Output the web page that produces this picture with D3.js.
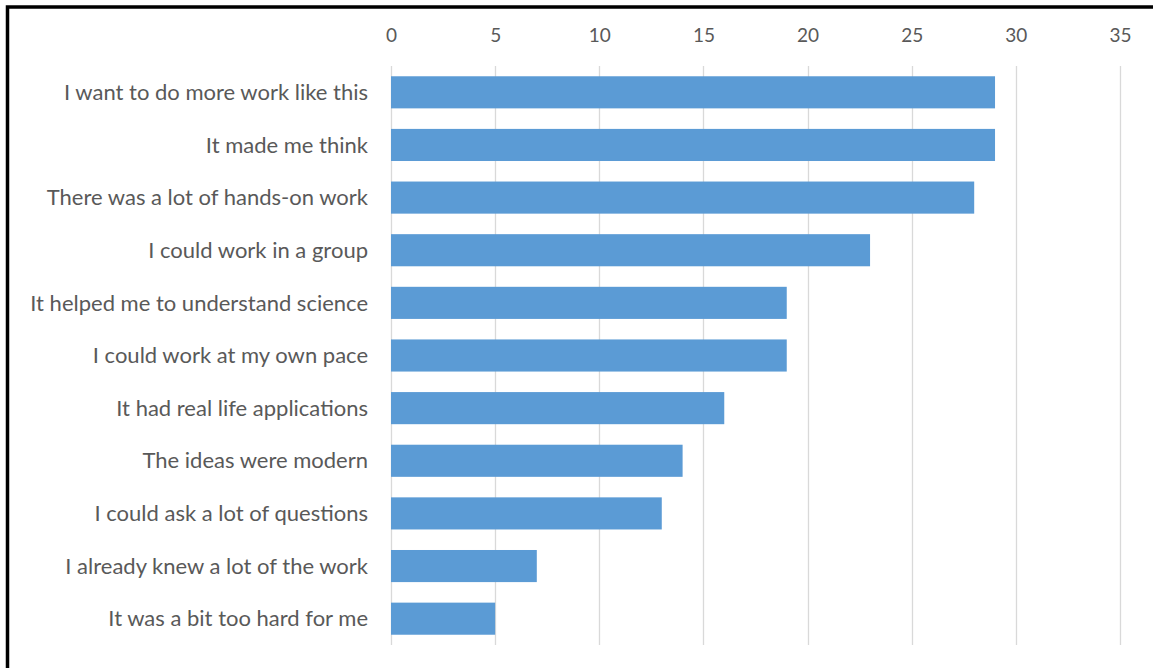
<!DOCTYPE html>
<html><head><meta charset="utf-8">
<script src="https://cdn.jsdelivr.net/npm/d3@7"></script>
<style>body{margin:0;background:#fff}svg{display:block}</style>
</head><body>
<svg id="c" width="1153" height="668"></svg>
<script>
const categories = ["I want to do more work like this","It made me think","There was a lot of hands-on work","I could work in a group","It helped me to understand science","I could work at my own pace","It had real life applications","The ideas were modern","I could ask a lot of questions","I already knew a lot of the work","It was a bit too hard for me"];
const values = [29,29,28,23,19,19,16,14,13,7,5];
const ticks = [0,5,10,15,20,25,30,35];

const svg = d3.select("#c");
const font = "Lato, 'Open Sans', sans-serif";
svg.append("rect").attr("x",0).attr("y",0).attr("width",1153).attr("height",668).attr("fill","#fff");
// frame
svg.append("rect").attr("x",7.5).attr("y",7).attr("width",1160).attr("height",680)
  .attr("fill","none").attr("stroke","#000").attr("stroke-width",3.5);

const x = d3.scaleLinear().domain([0,35]).range([391,1120]);
const y = d3.scaleBand().domain(categories).range([66,645]).paddingInner(0.39).paddingOuter(0.195);

const g = svg.append("g");
g.selectAll("line.grid").data(ticks).join("line").attr("class","grid")
  .attr("x1",d=>Math.round(x(d))+0.5).attr("x2",d=>Math.round(x(d))+0.5)
  .attr("y1",66).attr("y2",645).attr("stroke","#D9D9D9").attr("stroke-width",1.3);

g.selectAll("rect.bar").data(values).join("rect").attr("class","bar")
  .attr("x",x(0)).attr("y",(d,i)=>y(categories[i]))
  .attr("width",d=>x(d)-x(0)).attr("height",y.bandwidth()).attr("fill","#5B9BD5");

const ax = d3.axisTop(x).tickValues(ticks).tickSize(0).tickPadding(0);
const axg = svg.append("g").attr("transform","translate(0,42)").call(ax);
axg.select(".domain").remove();
axg.selectAll("text").attr("font-family",font).attr("font-size",19).attr("fill","#595959");

const ay = d3.axisLeft(y).tickSize(0).tickPadding(0);
const ayg = svg.append("g").attr("transform","translate(368,0)").call(ay);
ayg.select(".domain").remove();
ayg.selectAll("text").attr("font-family",font).attr("font-size",22).attr("fill","#595959").attr("dy","0.35em");
</script>
</body></html>
